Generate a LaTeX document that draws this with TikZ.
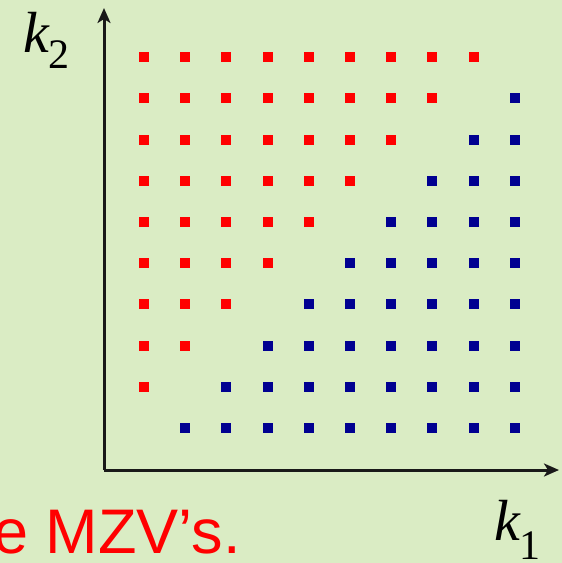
\documentclass[tikz,border=0pt]{standalone}
\usepackage{fontspec}
\setmainfont{Liberation Serif}
\newfontfamily\slidefont{Liberation Sans}
\usetikzlibrary{arrows.meta}
\definecolor{slidegreen}{RGB}{218,236,196}
\definecolor{dotred}{RGB}{255,0,0}
\definecolor{dotblue}{RGB}{0,0,145}
\definecolor{axisgray}{RGB}{25,25,25}

\begin{document}
\begin{tikzpicture}[x=1pt,y=-1pt,
    sq/.style={rectangle,inner sep=0pt,minimum size=10pt},
    axislab/.style={font=\fontsize{58}{60}\selectfont\itshape,inner sep=0pt,anchor=base west}]
    % slide background
    \fill[slidegreen] (0,0) rectangle (562,563);
    \useasboundingbox (0,0) rectangle (562,563);
    % axes
    \coordinate (O) at (104,470);
    \coordinate (ytop) at (104,8);
    \coordinate (xend) at (559,470);
    \draw[-{Stealth[length=15pt,width=13pt,inset=4pt]},line width=3pt,axisgray] (O) -- (ytop);
    \draw[-{Stealth[length=15pt,width=13pt,inset=4pt]},line width=3pt,axisgray] (O) -- (xend);
    \node[axislab] (ktwo) at (23,52)
      {k\raisebox{-16pt}{\fontsize{42}{44}\selectfont\upshape 2}};
    \node[axislab] (kone) at (494,540)
      {k\raisebox{-19pt}{\fontsize{42}{44}\selectfont\upshape 1}};
    % the lattice points, red above the diagonal, blue below
    \foreach \i in {1,...,10}
      \foreach \j in {1,...,10}{
        \pgfmathsetmacro\cx{144+(\i-1)*41.2}
        \pgfmathsetmacro\cy{428-(\j-1)*41.2}
        \ifnum\i<\j \node[sq,fill=dotred] (d\i-\j) at (\cx,\cy) {};\fi
        \ifnum\i>\j \node[sq,fill=dotblue] (d\i-\j) at (\cx,\cy) {};\fi
      }
    % slide text, cut at the left edge
    \node[anchor=base west,inner sep=0pt,text=dotred,
          font=\slidefont\fontsize{63}{70}\selectfont] (mzv) at (-7,553) {e MZV’s.};
  \end{tikzpicture}
\end{document}
